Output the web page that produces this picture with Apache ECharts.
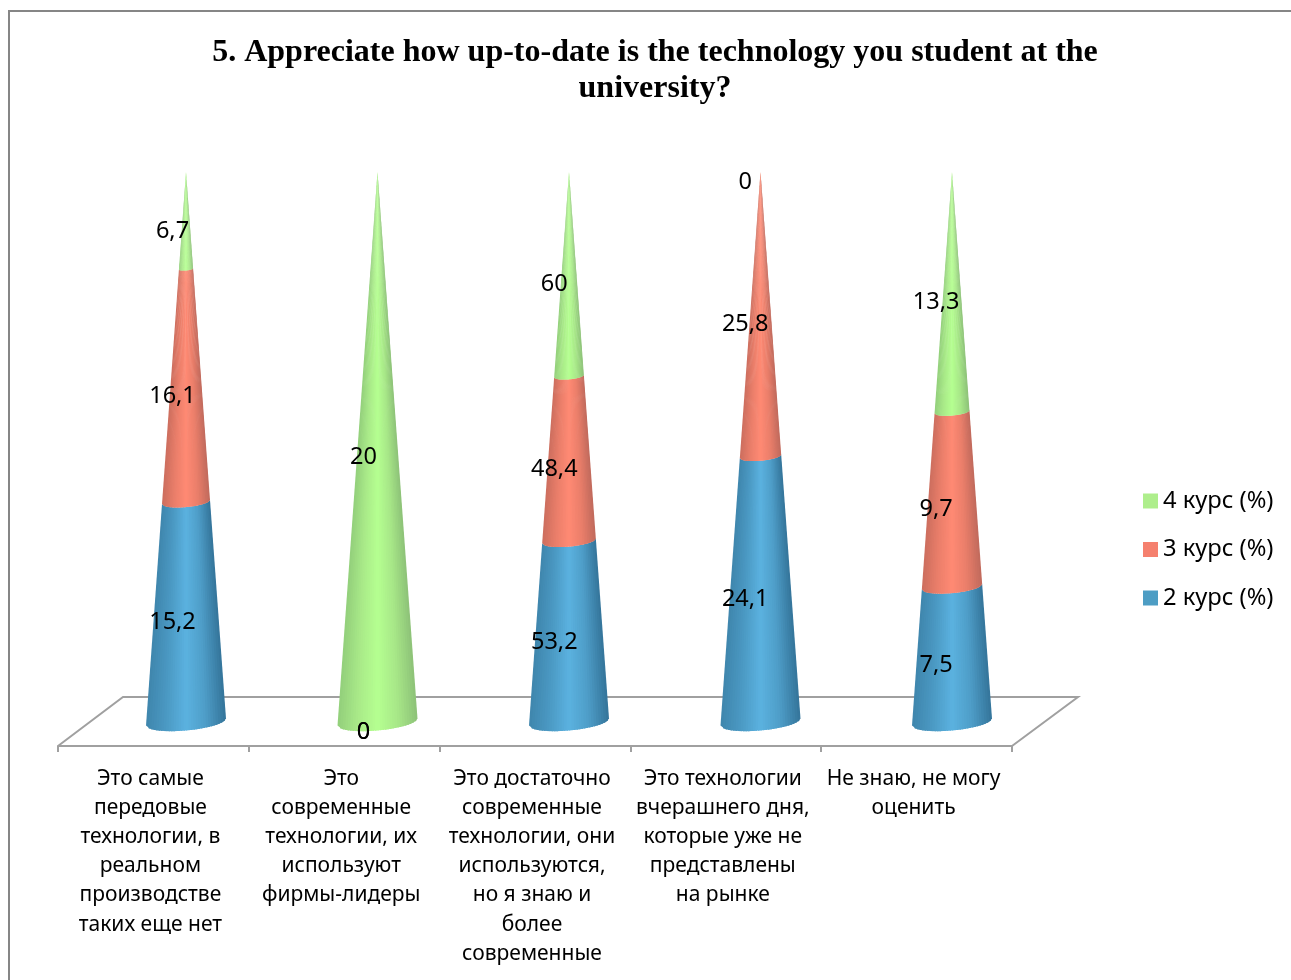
<!DOCTYPE html>
<html>
<head>
<meta charset="utf-8">
<style>html,body{margin:0;padding:0;background:#fff}#chart{width:1291px;height:980px}</style>
<script src="https://cdn.jsdelivr.net/npm/echarts@6/dist/echarts.min.js"></script>
</head>
<body>
<div id="chart"></div>
<script>
var categories = [
    'Это самые\nпередовые\nтехнологии, в\nреальном\nпроизводстве\nтаких еще нет',
    'Это\nсовременные\nтехнологии, их\nиспользуют\nфирмы-лидеры',
    'Это достаточно\nсовременные\nтехнологии, они\nиспользуются,\nно я знаю и\nболее\nсовременные',
    'Это технологии\nвчерашнего дня,\nкоторые уже не\nпредставлены\nна рынке',
    'Не знаю, не могу\nоценить'
];
var course2 = [15.2, 0, 53.2, 24.1, 7.5];
var course3 = [16.1, 0, 48.4, 25.8, 9.7];
var course4 = [6.7, 20, 60, 0, 13.3];
var seriesNames = ['2 курс (%)', '3 курс (%)', '4 курс (%)'];
var seriesValues = [course2, course3, course4];
var legendColors = ['#4D9DC4', '#F5806E', '#AEEE8C'];
var shades = [
    ['#3F86AD', '#4B99C3', '#5BB2E0', '#4E9DC7', '#34749A'],
    ['#CC6E5E', '#EA7E6A', '#FF8A74', '#EA7E6A', '#C06A5C'],
    ['#93CF7B', '#A9EA89', '#B5FF90', '#A8E888', '#8DC278']
];
var chartTitle = '5. Appreciate how up-to-date is the technology you student at the\nuniversity?';

var baseR = 40, baseRy = 8.5, tilt = 3.5, strips = 32;

function ringPoint(cx, cy, r, t) {
    var k = r / baseR;
    return [cx + r * Math.cos(t), cy + baseRy * k * Math.sin(t) - tilt * k * Math.cos(t)];
}

function renderCone(params, api) {
    var cat = api.value(0), from = api.value(1), to = api.value(2), val = api.value(3);
    var p0 = api.coord([cat, from]), p1 = api.coord([cat, to]);
    var r0 = baseR * (1 - from / 100), r1 = baseR * (1 - to / 100);
    var children = [];
    if (to > from) {
        for (var i = 0; i < strips; i++) {
            // strips are spaced evenly across the width, each overlaps the next to hide seams
            var u0 = i / strips, u1 = Math.min(1, (i + 1.6) / strips);
            var t0 = Math.PI - Math.acos(1 - 2 * u0), t1 = Math.PI - Math.acos(1 - 2 * u1);
            children.push({
                type: 'polygon',
                shape: {points: [
                    ringPoint(p0[0], p0[1], r0, t0), ringPoint(p0[0], p0[1], r0, t1),
                    ringPoint(p1[0], p1[1], r1, t1), ringPoint(p1[0], p1[1], r1, t0)
                ]},
                style: {fill: echarts.color.lerp((i + 0.5) / strips, shades[params.seriesIndex])}
            });
        }
    }
    children.push({
        type: 'text',
        z2: 100,
        style: {
            text: String(val).replace('.', ','),
            x: p0[0] - 13.5 - 0.6 * cat,
            y: (p0[1] + p1[1]) / 2 + 10.5,
            fill: '#000',
            font: '23.5px "Noto Sans"',
            align: 'center',
            verticalAlign: 'middle'
        }
    });
    return {type: 'group', children: children};
}

// each cone is split by the share of the column total, as in a 100% stacked chart
var series = seriesNames.map(function (name, s) {
    var rows = categories.map(function (c, i) {
        var total = course2[i] + course3[i] + course4[i], below = 0;
        for (var k = 0; k < s; k++) below += seriesValues[k][i];
        return [i, below / total * 100, (below + seriesValues[s][i]) / total * 100, seriesValues[s][i]];
    });
    return {
        name: name,
        type: 'custom',
        xAxisIndex: 1,
        yAxisIndex: 1,
        coordinateSystem: 'cartesian2d',
        renderItem: renderCone,
        encode: {x: 0, y: [1, 2]},
        itemStyle: {color: legendColors[s]},
        data: rows
    };
});

var myChart = echarts.init(document.getElementById('chart'));
myChart.setOption({
    animation: false,
    title: {
        text: chartTitle,
        left: 650,
        top: 30,
        textAlign: 'center',
        textStyle: {
            fontFamily: '"Liberation Serif"',
            fontWeight: 'bold',
            fontSize: 32,
            lineHeight: 36,
            color: '#000'
        }
    },
    legend: {
        orient: 'vertical',
        left: 1143,
        top: 489,
        padding: 0,
        icon: 'rect',
        itemWidth: 15,
        itemHeight: 15,
        itemGap: 24.5,
        data: [seriesNames[2], seriesNames[1], seriesNames[0]],
        textStyle: {fontFamily: '"Noto Sans"', fontSize: 23.7, color: '#000'}
    },
    grid: [
        {left: 58, top: 172, width: 954, height: 574},
        {left: 90.25, top: 172, width: 957.5, height: 550}
    ],
    xAxis: [
        {
            type: 'category',
            gridIndex: 0,
            data: categories,
            axisLine: {show: true, lineStyle: {color: '#A0A0A0', width: 2}},
            axisTick: {show: true, length: 6, lineStyle: {color: '#A0A0A0', width: 2}},
            axisLabel: {
                interval: 0,
                margin: 18,
                color: '#000',
                fontFamily: '"Noto Sans"',
                fontSize: 21,
                lineHeight: 29.2,
                padding: [0, 6, 0, 0]
            }
        },
        {type: 'category', gridIndex: 1, data: categories, show: false}
    ],
    yAxis: [
        {type: 'value', gridIndex: 0, min: 0, max: 100, show: false},
        {type: 'value', gridIndex: 1, min: 0, max: 100, show: false}
    ],
    graphic: [
        {
            type: 'polyline',
            silent: true,
            z: -1,
            shape: {points: [[9, 980], [9, 11], [1291, 11]]},
            style: {stroke: '#868686', lineWidth: 2, fill: null}
        },
        {
            type: 'polyline',
            silent: true,
            z: -1,
            shape: {points: [[58, 746], [123, 697], [1078, 697], [1012, 746]]},
            style: {stroke: '#A0A0A0', lineWidth: 2, fill: null}
        }
    ],
    series: series
});
</script>
</body>
</html>
